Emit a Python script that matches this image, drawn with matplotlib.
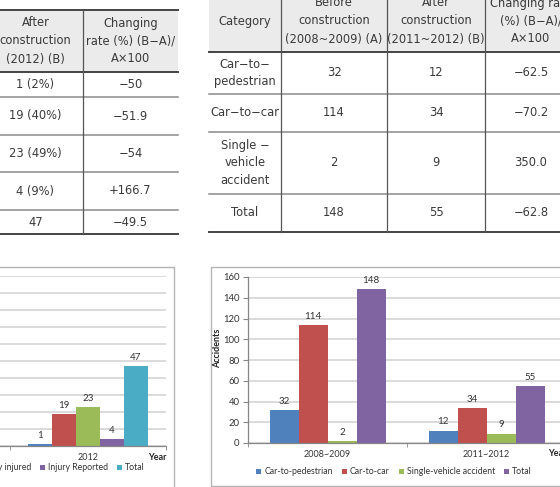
import matplotlib.pyplot as plt

# ---- data ----
left_header = ["After\nconstruction\n(2012) (B)", "Changing\nrate (%) (B−A)/\nA×100"]
left_after = ["1 (2%)", "19 (40%)", "23 (49%)", "4 (9%)", "47"]
left_rate = ["−50", "−51.9", "−54", "+166.7", "−49.5"]

right_header = ["Category", "Before\nconstruction\n(2008~2009) (A)",
                "After\nconstruction\n(2011~2012) (B)", "Changing rate\n(%) (B−A)/\nA×100"]
right_cats = ["Car−to−\npedestrian", "Car−to−car", "Single −\nvehicle\naccident", "Total"]
right_before = [32, 114, 2, 148]
right_after = [12, 34, 9, 55]
right_rate = ["−62.5", "−70.2", "350.0", "−62.8"]

inj_groups = ["2008~2009", "2012"]
inj_series = ["Fatality", "Seriously injured", "Slightly injured", "Injury Reported", "Total"]
inj_values = [[2, 1], [39.5, 19], [50, 23], [1.5, 4], [93, 47]]
inj_colors = ["#4F81BD", "#C0504D", "#9BBB59", "#8064A2", "#4BACC6"]

acc_groups = ["2008~2009", "2011~2012"]
acc_series = ["Car-to-pedestrian", "Car-to-car", "Single-vehicle accident", "Total"]
acc_values = [[32, 12], [114, 34], [2, 9], [148, 55]]
acc_colors = ["#4F81BD", "#C0504D", "#9BBB59", "#8064A2"]

TFONT = ['DejaVu Sans']
CFONT = ['Lato', 'DejaVu Sans']
W, H = 560, 487

fig = plt.figure(figsize=(5.6, 4.87), dpi=100)


def rect(l, t, r, b):
    return [l / W, 1 - b / H, (r - l) / W, (b - t) / H]


bg = fig.add_axes([0, 0, 1, 1])
bg.set_xlim(0, W)
bg.set_ylim(H, 0)
bg.axis('off')


def cell_text(x, y, s):
    lines = s.split("\n")
    y0 = y - (len(lines) - 1) * 9
    for i, ln in enumerate(lines):
        bg.text(x, y0 + i * 18, ln, ha='center', va='center', fontsize=8.3,
                family=TFONT, color='#3a3a3a')


def draw_table(xe, ye, header, cols):
    bg.fill_between([xe[0], xe[-1]], ye[0], ye[1], color='#ebebeb', lw=0)
    for i, y in enumerate(ye):
        if i in (0, 1, len(ye) - 1):
            bg.plot([xe[0], xe[-1]], [y, y], color='#444444', lw=1.4)
        else:
            bg.plot([xe[0], xe[-1]], [y, y], color='#8a8a8a', lw=1.1)
    for x in xe[1:-1]:
        bg.plot([x, x], [ye[0], ye[-1]], color='#555555', lw=0.9)
    for j, h in enumerate(header):
        cell_text((xe[j] + xe[j + 1]) / 2, (ye[0] + ye[1]) / 2, h)
    for j, col in enumerate(cols):
        for i, v in enumerate(col):
            cell_text((xe[j] + xe[j + 1]) / 2, (ye[i + 1] + ye[i + 2]) / 2, str(v))


draw_table([-12, 83, 178], [10, 72, 97, 135, 172, 210, 234],
           left_header, [left_after, left_rate])
draw_table([209, 281, 387, 485, 577], [-10, 52, 94, 132, 194, 232],
           right_header, [right_cats, right_before, right_after, right_rate])

# chart frames
fc = '#b4b4b4'
bg.plot([-5, 174, 174], [267, 267, 490], color=fc, lw=1)
bg.plot([570, 211, 211, 570], [267, 267, 486, 486], color=fc, lw=1)


def bar_chart(ax, groups, series, values, colors, width, ymax, ystep):
    n = len(series)
    x = range(len(groups))
    handles = []
    for i in range(n):
        pos = [xi + (i - (n - 1) / 2) * width for xi in x]
        b = ax.bar(pos, values[i], width, color=colors[i], label=series[i], zorder=2)
        ax.bar_label(b, labels=[f"{v:g}" for v in values[i]], padding=3,
                     fontsize=7, color='#333333', family=CFONT)
        handles.append(b)
    ax.set_xlim(-0.5, len(groups) - 0.5)
    ax.set_ylim(0, ymax)
    ax.set_yticks(range(0, ymax + 1, ystep))
    ax.set_xticks(list(x))
    ax.set_xticklabels(groups, family=CFONT, fontsize=6.5, color='#333333')
    ax.set_xticks([k - 0.5 for k in range(len(groups) + 1)], minor=True)
    ax.tick_params(axis='x', which='major', length=0, pad=5)
    ax.tick_params(axis='x', which='minor', length=3, color='#868686')
    ax.tick_params(axis='y', length=3.5, color='#868686', labelsize=6.8,
                   labelcolor='#333333', pad=2.5)
    for lab in ax.get_yticklabels():
        lab.set_family(CFONT)
    ax.yaxis.grid(True, color='#d4d4d4', lw=1.2)
    ax.set_axisbelow(True)
    for s in ('top', 'right'):
        ax.spines[s].set_visible(False)
    for s in ('left', 'bottom'):
        ax.spines[s].set_color('#868686')
        ax.spines[s].set_linewidth(0.9)
    ax.set_facecolor('none')
    return handles


ax1 = fig.add_axes(rect(-146, 276, 166, 446))
h1 = bar_chart(ax1, inj_groups, inj_series, inj_values, inj_colors, 24 / 156, 100, 10)
ax2 = fig.add_axes(rect(248, 277, 566, 443))
h2 = bar_chart(ax2, acc_groups, acc_series, acc_values, acc_colors, 29 / 159, 160, 20)

leg_kw = dict(frameon=False, handlelength=0.6, handleheight=0.6, handletextpad=0.35,
              columnspacing=1.0, borderpad=0, prop={'family': CFONT, 'size': 6.3},
              bbox_transform=fig.transFigure)
l1 = fig.legend(handles=h1, labels=inj_series, ncol=5, loc='center right',
                bbox_to_anchor=(149 / W, 1 - 468 / H), **leg_kw)
l2 = fig.legend(handles=h2, labels=acc_series, ncol=4, loc='center',
                bbox_to_anchor=(394 / W, 1 - 472 / H), **leg_kw)
for lg in (l1, l2):
    for t in lg.get_texts():
        t.set_color('#333333')

bg.text(218, 348, 'Accidents', rotation=90, ha='center', va='center',
        fontsize=6.5, fontweight='bold', family=CFONT, color='#222222')
bg.text(157, 458, 'Year', ha='center', va='center', fontsize=6.5,
        fontweight='bold', family=CFONT, color='#222222')
bg.text(548, 454, 'Year', ha='left', va='center', fontsize=6.5,
        fontweight='bold', family=CFONT, color='#222222')

fig.savefig('out.png', dpi=100)
